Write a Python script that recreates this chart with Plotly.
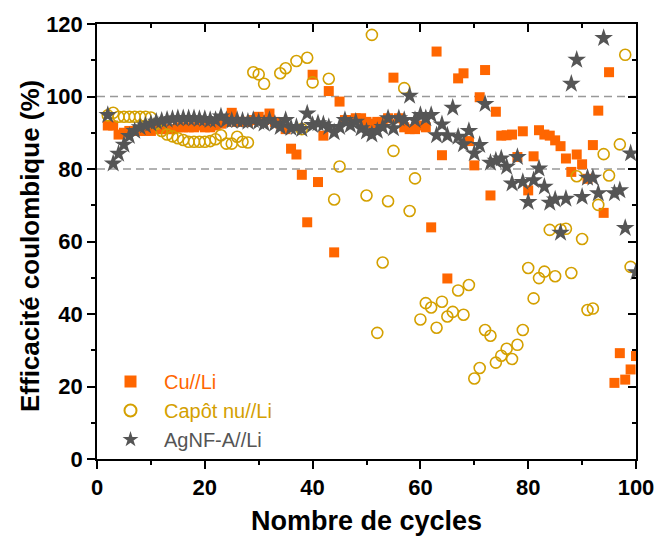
import plotly.graph_objects as go

# Coulombic efficiency (%) per cycle for each cell type
cu_cycles = [2, 3, 4, 5, 6, 7, 8, 9, 10, 11, 12, 13, 14, 15, 16, 17, 18, 19, 20, 21,
             22, 23, 24, 25, 26, 27, 28, 29, 30, 31, 32, 33, 34, 35, 36, 37, 38, 39, 40, 41,
             42, 43, 44, 45, 46, 47, 48, 49, 50, 51, 52, 53, 54, 55, 56, 57, 58, 59, 60, 61,
             62, 63, 64, 65, 67, 68, 69, 70, 71, 72, 73, 74, 75, 76, 77, 78, 79, 80, 81, 82,
             83, 84, 85, 86, 87, 88, 89, 90, 91, 92, 93, 94, 95, 96, 97, 98, 99, 100]
cu_eff = [92, 92, 89.5, 90, 90.5, 90.5, 90.5, 90.5, 90.5, 91, 91, 91, 91, 91.5, 91.5, 91.5, 91.5, 92, 91.5, 91.5,
          92, 92.5, 93, 95.5, 93, 93, 93, 93.5, 94.4, 93.5, 95.3, 93, 92.5, 91, 85.6, 84, 78.4, 65.3, 106, 76.4,
          89.2, 101.5, 57, 98.6, 93.5, 93.5, 94, 94, 93, 92.5, 93, 93, 94, 105.2, 94, 91.5, 91, 91, 92, 91.5,
          63.9, 112.4, 83.8, 49.8, 105, 106.4, 87.7, 81, 99.8, 107.3, 72.7, 95.8, 89.2, 89.3, 89.5, 83.3, 90.4, 74.1, 83.5, 90.7,
          89.5, 89.2, 87.9, 86.3, 82.9, 79.2, 84, 81.3, 77.3, 86.6, 96.1, 67.9, 106.7, 21, 29.2, 21.9, 24.7, 28.4]

cap_cycles = [2, 3, 4, 5, 6, 7, 8, 9, 10, 11, 12, 13, 14, 15, 16, 17, 18, 19, 20, 21,
              22, 23, 24, 25, 26, 27, 28, 29, 30, 31, 34, 35, 37, 38, 39, 40, 43, 44, 45, 50,
              51, 52, 53, 54, 55, 57, 58, 59, 60, 61, 62, 63, 64, 65, 66, 67, 68, 69, 70, 71,
              72, 73, 74, 75, 76, 77, 78, 79, 80, 81, 82, 83, 84, 85, 86, 87, 88, 89, 90, 91,
              92, 93, 94, 95, 97, 98, 99]
cap_eff = [94.8, 95.5, 94.4, 94.4, 94.4, 94.4, 94.4, 94.4, 94.2, 92.5, 90.5, 89.5, 89, 88.5, 88, 87.5, 87.5, 87.5, 87.5, 87.7,
           88.2, 89.3, 87, 87, 88.9, 87.5, 87.3, 106.7, 106.1, 103.5, 106.4, 107.8, 109.8, 91, 110.7, 103.9, 104.9, 71.6, 80.7, 72.7,
           117, 34.8, 54.2, 71.1, 85, 102.3, 68.4, 77.4, 38.5, 43, 41.8, 36.2, 43.4, 39.3, 40.6, 46.5, 39.8, 48, 22.2, 25.1,
           35.6, 34, 26.6, 28.5, 30.4, 27.6, 31.5, 35.6, 52.7, 44.3, 49.9, 51.7, 63.2, 50.4, 63.3, 63.5, 51.3, 78, 60.7, 41.1,
           41.5, 70.1, 84.1, 78.2, 86.8, 111.5, 53]

ag_cycles = [2, 3, 4, 5, 6, 7, 8, 9, 10, 11, 12, 13, 14, 15, 16, 17, 18, 19, 20, 21,
             22, 23, 24, 25, 26, 27, 28, 29, 30, 31, 32, 33, 34, 35, 36, 37, 38, 39, 40, 41,
             42, 43, 44, 45, 46, 47, 48, 49, 50, 51, 52, 53, 54, 55, 56, 57, 58, 59, 60, 61,
             62, 63, 64, 65, 66, 67, 68, 69, 70, 71, 72, 73, 74, 75, 76, 77, 78, 79, 80, 81,
             82, 83, 84, 85, 86, 87, 88, 89, 90, 91, 92, 93, 94, 96, 97, 98, 99, 100]
ag_eff = [94.9, 81.5, 84.2, 86.7, 89.1, 90.5, 91.5, 92, 92.5, 93, 93.3, 93.6, 93.8, 94, 94, 94, 94, 93.8, 93.8, 93.5,
          93.5, 94.5, 93.5, 93.3, 93.5, 93.3, 93, 93.5, 93, 92.5, 93.5, 92.5, 91.6, 93.5, 91.3, 91.6, 91, 95.3, 92.1, 92.6,
          92.3, 91.6, 90.1, 91.6, 93.5, 92.1, 93, 91.2, 90.3, 89.5, 90.5, 91.6, 94, 91.2, 94, 93.5, 100.2, 93.5, 94.9, 94,
          94.9, 89.3, 92.3, 89.2, 96.9, 88.9, 86.8, 90.5, 84.3, 86.6, 97.9, 81.7, 82.3, 82.9, 80.6, 76, 83.3, 76.4, 70.9, 76.9,
          80.1, 75.1, 70.7, 71.6, 62.4, 71.8, 103.5, 110.1, 72.3, 77.6, 77.6, 73.3, 116.1, 73.3, 74.1, 63.7, 84.3, 51.5]

x_ticks = [0, 20, 40, 60, 80, 100]
y_ticks = [0, 20, 40, 60, 80, 100, 120]
ref_levels = [80, 100]

ORANGE = "#FF6600"
GOLD = "#D4A000"
GREY = "#555555"
FONT = "Arial, Liberation Sans, sans-serif"

fig = go.Figure()
fig.add_trace(go.Scatter(
    x=cu_cycles, y=cu_eff, mode="markers",
    name=f"<span style='color:{ORANGE}'>Cu//Li</span>",
    marker=dict(symbol="square", size=10, color=ORANGE, line=dict(width=0)),
))
fig.add_trace(go.Scatter(
    x=cap_cycles, y=cap_eff, mode="markers",
    name=f"<span style='color:{GOLD}'>Capôt nu//Li</span>",
    marker=dict(symbol="circle-open", size=11, color=GOLD, line=dict(width=1.6, color=GOLD)),
))
fig.add_trace(go.Scatter(
    x=ag_cycles, y=ag_eff, mode="markers",
    name=f"<span style='color:{GREY}'>AgNF-A//Li</span>",
    marker=dict(symbol="star", size=14, color=GREY, line=dict(width=0)),
))
# empty trace so the mirrored top/right axes are drawn
fig.add_trace(go.Scatter(x=[], y=[], xaxis="x2", yaxis="y2", showlegend=False, hoverinfo="skip"))

for lvl in ref_levels:
    fig.add_shape(type="line", xref="paper", x0=0, x1=1, yref="y", y0=lvl, y1=lvl,
                  line=dict(color="#999999", width=1.5, dash="8px,5px"), layer="below")

axis_common = dict(showgrid=False, zeroline=False, showline=True, linecolor="black",
                   linewidth=1.5, tickcolor="black", tickwidth=1.5, automargin=False)

fig.update_layout(
    width=657, height=536,
    margin=dict(l=97, r=21, t=24, b=77, autoexpand=False),
    paper_bgcolor="white", plot_bgcolor="white",
    font=dict(family=FONT, color="black"),
    showlegend=True,
    legend=dict(x=0.0, y=0.0, xanchor="left", yanchor="bottom",
                bgcolor="rgba(0,0,0,0)", font=dict(size=20, family=FONT),
                itemsizing="constant", itemwidth=57, tracegroupgap=0),
    xaxis=dict(range=[0, 100], tickvals=x_ticks, ticks="outside", ticklen=8,
               tickfont=dict(size=22, family=FONT, weight="bold"),
               minor=dict(dtick=10, ticks="outside", ticklen=4, tickwidth=1.5, tickcolor="black"),
               **axis_common),
    yaxis=dict(range=[0, 120], tickvals=y_ticks, ticks="outside", ticklen=8,
               tickfont=dict(size=22, family=FONT, weight="bold"),
               minor=dict(dtick=10, ticks="outside", ticklen=4, tickwidth=1.5, tickcolor="black"),
               **axis_common),
    xaxis2=dict(range=[0, 100], overlaying="x", side="top", anchor="y2",
                tickvals=x_ticks, ticks="inside", ticklen=8, showticklabels=False,
                minor=dict(dtick=10, ticks="inside", ticklen=4, tickwidth=1.5, tickcolor="black"),
                **axis_common),
    yaxis2=dict(range=[0, 120], overlaying="y", side="right", anchor="x2",
                tickvals=y_ticks, ticks="inside", ticklen=8, showticklabels=False,
                minor=dict(dtick=10, ticks="inside", ticklen=4, tickwidth=1.5, tickcolor="black"),
                **axis_common),
)

fig.add_annotation(text="<b>Nombre de cycles</b>", xref="paper", yref="paper",
                   x=0.5, y=-0.143, xanchor="center", yanchor="middle", showarrow=False,
                   font=dict(size=27, family=FONT, color="black"))
fig.add_annotation(text="<b>Efficacité coulombique (%)</b>", xref="paper", yref="paper",
                   x=-0.124, y=0.49, xanchor="center", yanchor="middle", textangle=-90,
                   showarrow=False, font=dict(size=26, family=FONT, color="black"))

fig.write_html("out.html")
